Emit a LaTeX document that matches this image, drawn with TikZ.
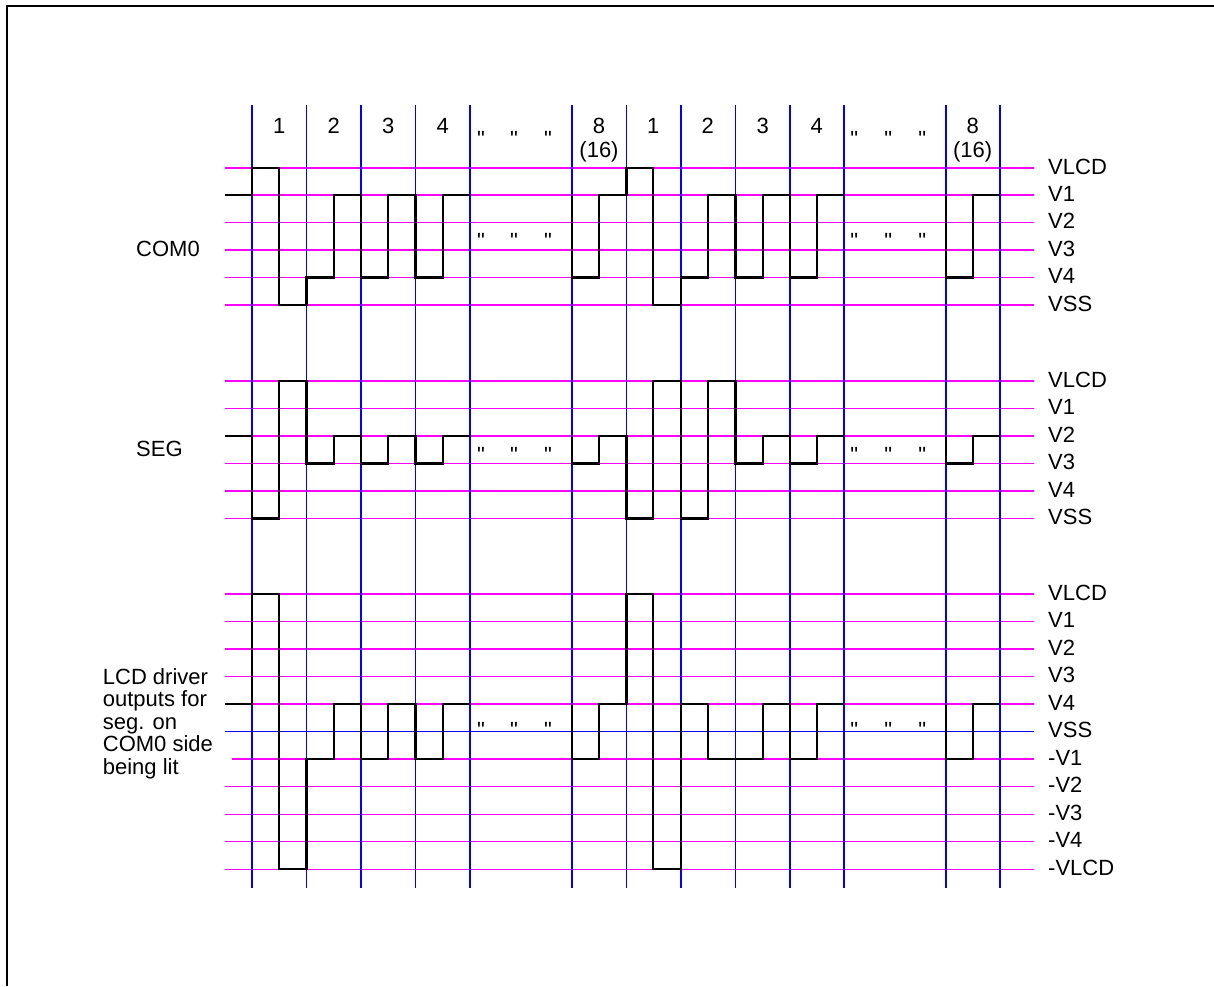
\documentclass[tikz,border=0pt]{standalone}
\usepackage{fontspec}
\setmainfont{Liberation Sans}
\newfontfamily\qfont{Liberation Sans}[Ligatures=TeXOff]
\definecolor{gridmag}{RGB}{255,0,255}
\definecolor{gridblue}{RGB}{0,0,255}
\begin{document}
\begin{tikzpicture}[x=1pt,y=-1pt,
  hline/.style={gridmag,line width=1.1pt},
  hblue/.style={gridblue,line width=1.1pt},
  vline/.style={gridblue,line width=1.1pt},
  wave/.style={black,line width=2.2pt,line join=miter},
  lbl/.style={inner sep=0pt,font=\fontsize{22}{24}\selectfont},
  qt/.style={inner sep=0pt,anchor=north,font=\qfont\fontsize{22}{24}\selectfont}]
\useasboundingbox (0,0) rectangle (1214,986);
% frame
\draw[line width=2pt] (7.3,986) -- (7.3,5.5) -- (1214,5.5);
% horizontal grid lines
\foreach \y in {168,195,222.5,250,277.5,305, 381,408.5,436,463.5,491,518.5, 594,621.7,649,676.7,704,786.7,814.3,841.7,869.3}
  \draw[hline] (225,\y) -- (1034,\y);
\draw[hline] (231.7,759) -- (1034,759);
\draw[hblue] (225,731.7) -- (1034,731.7);
% vertical grid lines
\foreach \x in {252,306.5,361,415.5,470,572,626.5,681,735.5,790,844,946,1000}
  \draw[vline] (\x,105) -- (\x,888);
% COM0 waveform
\draw[wave] (225,195) -- (252,195) -- (252,168) -- (279.3,168) -- (279.3,305) -- (306.5,305) -- (306.5,277.5) -- (334,277.5) -- (334,195) -- (361,195) -- (361,277.5) -- (388.3,277.5) -- (388.3,195) -- (415.5,195) -- (415.5,277.5) -- (442.7,277.5) -- (442.7,195) -- (470,195);
\draw[wave] (572,195) -- (572,277.5) -- (599,277.5) -- (599,195) -- (626.5,195) -- (626.5,168) -- (653.3,168) -- (653.3,305) -- (681,305) -- (681,277.5) -- (707.7,277.5) -- (707.7,195) -- (735.5,195) -- (735.5,277.5) -- (762.7,277.5) -- (762.7,195) -- (790,195) -- (790,277.5) -- (816.7,277.5) -- (816.7,195) -- (844,195);
\draw[wave] (946,195) -- (946,277.5) -- (972.7,277.5) -- (972.7,195) -- (1000,195);
% SEG waveform
\draw[wave] (225,436) -- (252,436) -- (252,518.5) -- (279.3,518.5) -- (279.3,381) -- (306.5,381) -- (306.5,463.5) -- (334,463.5) -- (334,436) -- (361,436) -- (361,463.5) -- (388.3,463.5) -- (388.3,436) -- (415.5,436) -- (415.5,463.5) -- (442.7,463.5) -- (442.7,436) -- (470,436);
\draw[wave] (572,436) -- (572,463.5) -- (599,463.5) -- (599,436) -- (626.5,436) -- (626.5,518.5) -- (653.3,518.5) -- (653.3,381) -- (681,381) -- (681,518.5) -- (707.7,518.5) -- (707.7,381) -- (735.5,381) -- (735.5,463.5) -- (762.7,463.5) -- (762.7,436) -- (790,436) -- (790,463.5) -- (816.7,463.5) -- (816.7,436) -- (844,436);
\draw[wave] (946,436) -- (946,463.5) -- (972.7,463.5) -- (972.7,436) -- (1000,436);
% LCD driver output waveform
\draw[wave] (225,704) -- (252,704) -- (252,594) -- (279.3,594) -- (279.3,869.3) -- (306.5,869.3) -- (306.5,759) -- (334,759) -- (334,704) -- (361,704) -- (361,759) -- (388.3,759) -- (388.3,704) -- (415.5,704) -- (415.5,759) -- (442.7,759) -- (442.7,704) -- (470,704);
\draw[wave] (572,704) -- (572,759) -- (599,759) -- (599,704) -- (626.5,704) -- (626.5,594) -- (653.3,594) -- (653.3,869.3) -- (681,869.3) -- (681,704) -- (707.7,704) -- (707.7,759) -- (762.7,759) -- (762.7,704) -- (790,704) -- (790,759) -- (816.7,759) -- (816.7,704) -- (844,704);
\draw[wave] (946,704) -- (946,759) -- (972.7,759) -- (972.7,704) -- (1000,704);
% header labels
\node[lbl,anchor=base] (h1) at (279.3,133.3) {1};
\node[lbl,anchor=base] (h2) at (333.7,133.3) {2};
\node[lbl,anchor=base] (h3) at (388.3,133.3) {3};
\node[lbl,anchor=base] (h4) at (442.7,133.3) {4};
\node[lbl,anchor=base] (h8) at (599,133.3) {8};
\node[lbl,anchor=base] (h16) at (599,157) {(16)};
\node[lbl,anchor=base] (k1) at (653.3,133.3) {1};
\node[lbl,anchor=base] (k2) at (707.7,133.3) {2};
\node[lbl,anchor=base] (k3) at (762.7,133.3) {3};
\node[lbl,anchor=base] (k4) at (816.7,133.3) {4};
\node[lbl,anchor=base] (k8) at (972.7,133.3) {8};
\node[lbl,anchor=base] (k16) at (972.7,157) {(16)};
% ditto marks
\foreach \yy [count=\r] in {131,233,447,722}
  \foreach \xx [count=\c] in {481,514,548,854.3,888.3,922.3}
    \node[qt] (q\r-\c) at (\xx,\yy) {"};
% left labels
\node[lbl,anchor=base west] (com) at (136,256.7) {COM0};
\node[lbl,anchor=base west] (seg) at (136,456.7) {SEG};
\node[lbl,anchor=base west] (d1) at (102.7,684.3) {LCD driver};
\node[lbl,anchor=base west] (d2) at (102.7,706.8) {outputs for};
\node[lbl,anchor=base west] (d3) at (102.7,729.3) {seg. on};
\node[lbl,anchor=base west] (d4) at (102.7,751.7) {COM0 side};
\node[lbl,anchor=base west] (d5) at (102.7,774.2) {being lit};
% right labels
\foreach \y/\t [count=\i] in {168/VLCD,195/V1,222.5/V2,250/V3,277.5/V4,305/VSS}
  \node[lbl,anchor=base west] (a\i) at (1048,\y+6) {\t};
\foreach \y/\t [count=\i] in {381/VLCD,408.5/V1,436/V2,463.5/V3,491/V4,518.5/VSS}
  \node[lbl,anchor=base west] (b\i) at (1048,\y+6) {\t};
\foreach \y/\t [count=\i] in {594/VLCD,621.7/V1,649/V2,676.7/V3,704/V4,731.7/VSS,759/-V1,786.7/-V2,814.3/-V3,841.7/-V4,869.3/-VLCD}
  \node[lbl,anchor=base west] (c\i) at (1048,\y+6) {\t};
\end{tikzpicture}
\end{document}
